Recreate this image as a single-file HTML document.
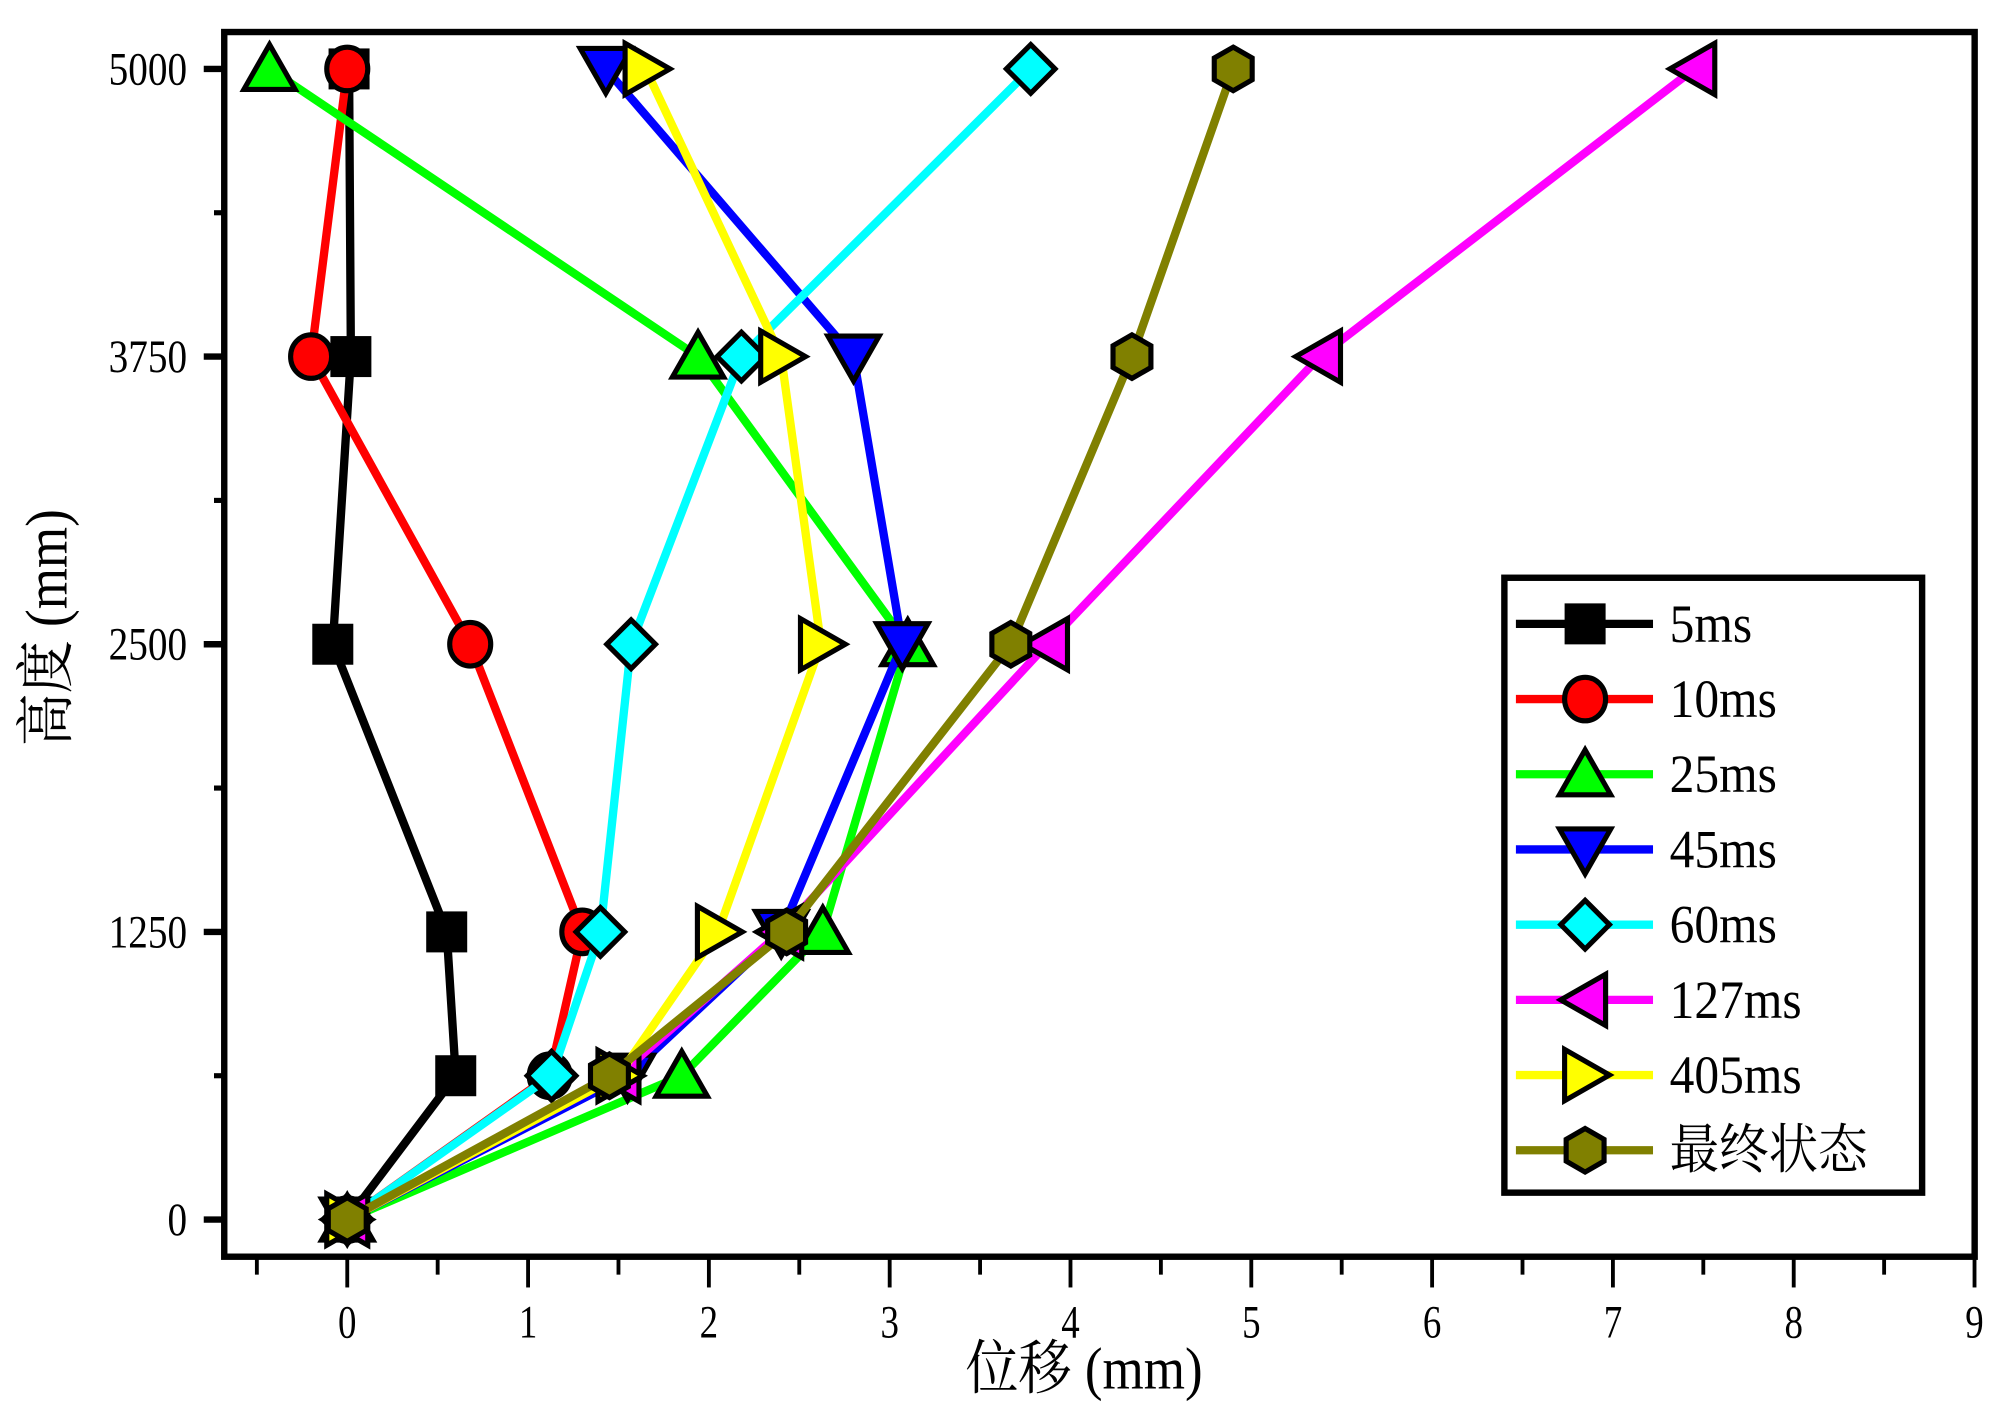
<!DOCTYPE html>
<html><head><meta charset="utf-8"><style>
html,body{margin:0;padding:0;background:#fff;}
svg{display:block;}
text{font-family:"Liberation Serif","Noto Serif CJK SC","Noto Sans CJK SC",serif;fill:#000;}
</style></head><body>
<svg id="chart" width="1999" height="1413" viewBox="0 0 1560 1103" preserveAspectRatio="none" xmlns="http://www.w3.org/2000/svg">
<g id="grid"></g>
<g id="series"></g>
<g id="legend"></g>
</svg>
<script>
const heights = [0, 625, 1250, 2500, 3750, 5000];
const seriesNames = ["5ms","10ms","25ms","45ms","60ms","127ms","405ms","最终状态"];
const s5 = [0, 0.6, 0.55, -0.08, 0.02, 0.01];
const s10 = [0, 1.12, 1.3, 0.68, -0.2, 0.0];
const s25 = [0, 1.85, 2.63, 3.1, 1.94, -0.43];
const s45 = [0, 1.55, 2.4, 3.07, 2.8, 1.43];
const s60 = [0, 1.13, 1.4, 1.57, 2.18, 3.78];
const s127 = [0, 1.5, 2.4, 3.87, 5.38, 7.45];
const s405 = [0, 1.5, 2.05, 2.62, 2.4, 1.65];
const sFinal = [0, 1.45, 2.43, 3.67, 4.34, 4.9];
const xTicks = [0,1,2,3,4,5,6,7,8,9];
const yTicks = [0,1250,2500,3750,5000];

const allSeries = [s5,s10,s25,s45,s60,s127,s405,sFinal];
const colors = ["#000000","#ff0000","#00ff00","#0000ff","#00ffff","#ff00ff","#ffff00","#808000"];
const shapes = ["square","circle","up","down","diamond","left","right","hex"];
const NS = "http://www.w3.org/2000/svg";
const L=175,T=25,R=1541,B=981;
const X = v => 271 + v*141.1;
const Y = v => 952 - v*0.17964;
function mk(tag, attrs, parent){const e=document.createElementNS(NS,tag);for(const k in attrs)e.setAttribute(k,attrs[k]);parent.appendChild(e);return e;}
const grid=document.getElementById('grid'), ser=document.getElementById('series'), leg=document.getElementById('legend');

let f=mk('rect',{x:L,y:T,width:R-L,height:B-T,fill:'none',stroke:'#000','stroke-width':5},grid);


for(let v=-0.5; v<=9.001; v+=0.5){
  const major=Math.abs(v-Math.round(v))<1e-6;
  const t=mk('line',{x1:X(v),x2:X(v),y1:B,y2:B+(major?24:14),stroke:'#000','stroke-width':3},grid);
  
  
}
xTicks.forEach(v=>{
  const t=mk('text',{x:0,y:0,'text-anchor':'middle','font-size':36,transform:'translate('+X(v)+',1044) scale(0.8,1)'},grid);
  t.textContent=v;
  
  
});
for(let v=0; v<=5000; v+=625){
  const major=v%1250===0;
  const t=mk('line',{x1:L,x2:L-(major?16:8),y1:Y(v),y2:Y(v),stroke:'#000','stroke-width':major?5:4},grid);
  
  
}
yTicks.forEach(v=>{
  const t=mk('text',{x:0,y:0,'text-anchor':'end','font-size':36,transform:'translate(146,'+(Y(v)+12)+') scale(0.85,1)'},grid);
  t.textContent=v;
  
  
});
let xt=mk('text',{x:0,y:0,'text-anchor':'middle','font-size':46,transform:'translate(846,1084) scale(0.9,1)'},grid);
xt.textContent='位移 (mm)';


let yt=mk('text',{x:0,y:0,'text-anchor':'middle','font-size':46,transform:'translate(52,490) rotate(-90) scale(0.9,1)'},grid);
yt.textContent='高度 (mm)';



function marker(shape,cx,cy,color,parent){
  const r=17, st={fill:color,stroke:'#000','stroke-width':4,'stroke-linejoin':'miter'};
  let e;
  if(shape==='square') e=mk('rect',Object.assign({x:cx-14,y:cy-14,width:28,height:28},st),parent);
  else if(shape==='circle') e=mk('ellipse',Object.assign({cx:cx,cy:cy,rx:16,ry:17},st),parent);
  else {
    let pts;
    if(shape==='up') pts=[[0,-r-2],[r+3,r-1],[-r-3,r-1]];
    else if(shape==='down') pts=[[0,r+2],[r+3,-r+1],[-r-3,-r+1]];
    else if(shape==='left') pts=[[-r-2,0],[r-1,r+3],[r-1,-r-3]];
    else if(shape==='right') pts=[[r+2,0],[-r+1,r+3],[-r+1,-r-3]];
    else if(shape==='diamond') pts=[[0,-r-2],[r+2,0],[0,r+2],[-r-2,0]];
    else pts=[[0,-r],[r*0.87,-r/2],[r*0.87,r/2],[0,r],[-r*0.87,r/2],[-r*0.87,-r/2]];
    e=mk('polygon',Object.assign({points:pts.map(p=>(cx+p[0])+','+(cy+p[1])).join(' ')},st),parent);
  }
  return e;
}

allSeries.forEach((data,i)=>{
  const g=mk('g',{},ser);
  
  
  const pl=mk('polyline',{points:data.map((v,j)=>X(v)+','+Y(heights[j])).join(' '),fill:'none',stroke:colors[i],'stroke-width':6.5,'stroke-linejoin':'round'},g);
  
  
  data.forEach((v,j)=>{
    const m=marker(shapes[i],X(v),Y(heights[j]),colors[i],g);
    
    
  });
});

let lb=mk('rect',{x:1174,y:451,width:326,height:480,fill:'#fff',stroke:'#000','stroke-width':5},leg);


seriesNames.forEach((n,i)=>{
  const y=487+i*58.7;
  const g=mk('g',{},leg);
  
  
  mk('line',{x1:1183,x2:1290,y1:y,y2:y,stroke:colors[i],'stroke-width':6.5},g);
  marker(shapes[i],1237,y,colors[i],g);
  const t=mk('text',{x:0,y:0,'font-size':42,transform:'translate(1303,'+(y+14)+') scale(0.92,1)'},g);
  t.textContent=n;
});
</script>
</body></html>
